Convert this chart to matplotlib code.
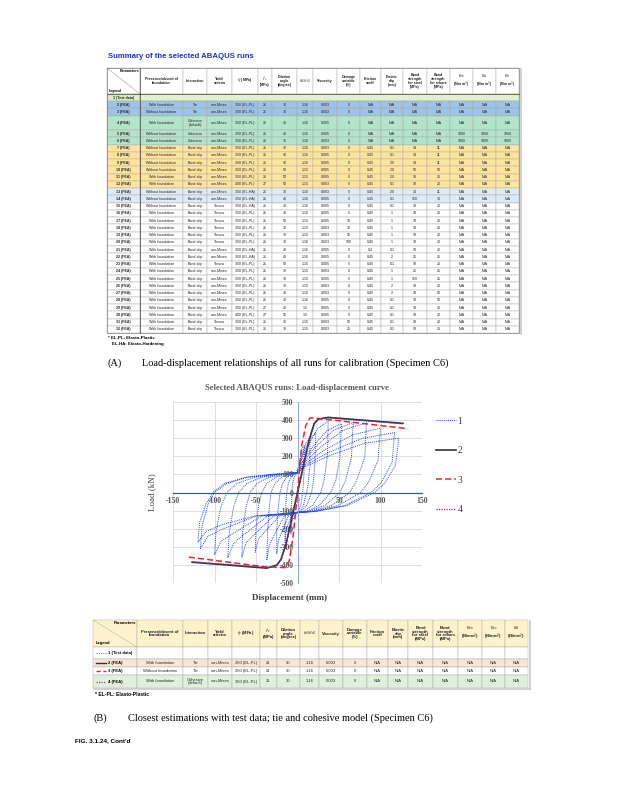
import matplotlib
matplotlib.use('Agg')
import matplotlib.pyplot as plt
from matplotlib.patches import Rectangle

plt.rcParams['axes.unicode_minus'] = False
SERIF = ['Liberation Serif', 'DejaVu Serif']
SANS = ['Liberation Sans', 'DejaVu Sans']

# ---------------- chart data ----------------
# test data, one hysteresis cycle per line
test_disp = [
    0, 1, 3, 5, 8, 8, 7, 6, 4, 1, 0, -3, -6, -7, -8, -8, -7, -7, -6, -4, -2,
    0, 1, 5, 10, 15, 15, 13, 11, 7, 3, 0, -7, -12, -14, -15, -15, -14, -13, -11, -8, -4,
    0, 2, 7, 15, 22, 21, 19, 17, 11, 4, 0, -11, -19, -23, -25, -25, -23, -21, -18, -13, -7,
    0, 3, 12, 24, 37, 36, 32, 28, 18, 7, 0, -16, -29, -34, -37, -36, -34, -32, -27, -19, -10,
    0, 4, 17, 35, 53, 51, 46, 40, 26, 10, 0, -22, -39, -47, -51, -50, -47, -43, -37, -26, -13,
    0, 5, 21, 44, 67, 65, 58, 51, 33, 12, 0, -29, -52, -62, -67, -66, -62, -57, -49, -34, -17,
    0, 7, 27, 55, 83, 81, 71, 63, 41, 15, 0, -36, -65, -77, -84, -82, -77, -71, -61, -43, -22,
    0, 8, 32, 66, 100, 97, 86, 76, 49, 18, 0, -43, -77, -92, -100, -98, -92, -85, -73, -51, -26,
    0, 9, 37, 77, 117, 114, 101, 89, 57, 21, 0, -50, -90, -108, -117, -115, -108, -100, -85, -60, -30,
    0, 10, 39, 81, 122, 118, 105, 93, 60, 22, 0, -52, -92, -110, -120, -118, -110, -102, -88, -61, -31, 0,
]
test_load = [
    110, 137, 185, 238, 260, 130, 44, 0, -72, -105, -110, -130, -150, -179, -230, -138, -51, 0, 50, 85, 100,
    110, 144, 205, 272, 300, 150, 51, 0, -72, -105, -110, -130, -182, -218, -280, -168, -62, 0, 50, 85, 100,
    110, 150, 220, 297, 330, 165, 56, 0, -72, -105, -110, -130, -221, -265, -340, -204, -75, 0, 50, 85, 100,
    110, 161, 252, 352, 395, 198, 67, 0, -72, -105, -110, -130, -244, -293, -375, -225, -83, 0, 50, 85, 100,
    110, 159, 245, 340, 380, 190, 65, 0, -72, -105, -110, -130, -215, -257, -330, -198, -73, 0, 50, 85, 100,
    110, 160, 249, 345, 387, 194, 66, 0, -72, -105, -110, -130, -232, -278, -357, -214, -79, 0, 50, 85, 100,
    110, 160, 248, 344, 385, 193, 65, 0, -72, -105, -110, -130, -234, -281, -360, -216, -79, 0, 50, 85, 100,
    110, 154, 233, 318, 355, 178, 60, 0, -72, -105, -110, -130, -224, -269, -345, -207, -76, 0, 50, 85, 100,
    110, 150, 220, 298, 331, 166, 56, 0, -72, -105, -110, -130, -202, -242, -310, -186, -68, 0, 50, 85, 100,
    110, 144, 205, 272, 300, 150, 51, 0, -72, -105, -110, -130, -179, -215, -275, -165, -61, 0, 50, 85, 100, 110,
]
fea2_disp = [-127, -37, -25, -20, -14, 0, 14, 20, 25, 37, 127]
fea2_load = [-385, -418, -402, -370, -290, 0, 290, 380, 405, 415, 382]
fea3_disp = [-131, -40, -15, -10, -5, 0, 5, 10, 15, 20, 131]
fea3_load = [-357, -410, -415, -380, -230, 0, 260, 370, 412, 412, 354]
fea4_disp = [-126, -36, -24, -19, -14, 0, 15, 21, 26, 36, 126]
fea4_load = [-383, -414, -398, -365, -290, 0, 300, 385, 407, 412, 380]
series_names = ['1', '2', '3', '4']
x_ticks = [-150, -100, -50, 0, 50, 100, 150]
y_ticks = [-500, -400, -300, -200, -100, 0, 100, 200, 300, 400, 500]

# ---------------- top table data ----------------
W = 'With foundation'
WO = 'Without foundation'
NA = 'N/A'
PL = '350 (EL-PL)'
HA = '350 (EL-HA)'
top_head = ['Presence/absent of\nfoundation', 'Interaction', 'Yield\ncriteria', '$f_y$ (MPa)',
            "$f'_c$\n(MPa)", 'Dilation\nangle\n(degree)', '$f_{b0}/f_{c0}$', 'Viscosity',
            'Damage\nvariable\n(%)', 'Friction\ncoeff', 'Elastic\nslip\n(mm)',
            'Bond\nstrength\nfor steel\n(MPa)', 'Bond\nstrength\nfor rebars\n(MPa)',
            '$K_{nn}$\n(N/mm$^3$)', '$K_{ss}$\n(N/mm$^3$)', '$K_{tt}$\n(N/mm$^3$)']
top_runs = [str(i) + ' (FEA)' for i in range(2, 33)]
top_found = [W, WO, W, WO, WO, WO, WO, WO, WO, W, W, WO, WO, WO,
             W, W, W, W, W, W, W, W, W, W, W, W, W, W, W, W, W]
top_inter = ['Tie', 'Tie', 'Cohesive\n(default)', 'Cohesive', 'Cohesive'] + ['Bond-slip'] * 26
top_yield = (['von-Mises'] * 13 + ['Tresca'] * 6 + ['von-Mises'] * 2 + ['Tresca']
             + ['von-Mises'] * 7 + ['Tresca'] * 2)
top_fy = ([PL] * 10 + ['400 (EL-PL)', HA, HA, HA] + [PL] * 5 + [HA, HA]
          + [PL] * 7 + ['400 (EL-PL)', PL, PL])
top_fc = ['21'] * 10 + ['27'] + ['21'] * 16 + ['27', '27', '21', '21']
top_dil = ['30', '30', '40', '40', '30', '30', '40', '40', '50', '50', '50', '30', '40', '40',
           '40', '50', '30', '30', '30', '40', '40', '50', '30', '30', '30', '40', '40', '40',
           '50', '30', '30']
top_fb = ['1.16'] * 8 + ['1.15', '1.15', '1.15', '1.16', '1.16', '1.16', '1.16', '1.15', '1.15',
          '1.15', '1.16', '1.16', '1.16', '1.15', '1.15', '1.15', '1.15', '1.16', '1.16',
          '1.5', '1.5', '1.15', '1.15']
top_visc = ['0.003', '0.003', '0.005', '0.005', '0.003', '0.003', '0.005', '0.005', '0.005',
            '0.005', '0.003', '0.003', '0.005', '0.005', '0.005', '0.005', '0.003', '0.003',
            '0.003', '0.005', '0.005', '0.005', '0.003', '0.005', '0.003', '0.003', '0.005',
            '0.005', '0.005', '0.003', '0.003']
top_dmg = ['0'] * 14 + ['5', '10', '30', '50', '100', '0', '0', '5', '0', '0', '0', '0', '0',
                        '0', '0', '50', '25']
top_fric = [NA] * 5 + ['0.45'] * 14 + ['0.4'] + ['0.45'] * 11
top_slip = [NA] * 5 + ['0.1', '0.1', '2.0', '2.0', '2.0', '0.1', '2.0', '0.1', '0.1', '1', '1',
                       '1', '1', '1', '0.1', '2', '0.1', '1', '1', '2', '2', '0.1', '0.1',
                       '0.1', '0.1', '0.1']
top_bsteel = [NA] * 5 + ['14', '14', '14', '50', '18', '18', '14', '150', '18', '18', '18',
                         '18', '18', '18', '18', '25', '18', '25', '150', '18', '18', '18',
                         '18', '18', '18', '18']
top_brebar = [NA] * 5 + ['11', '11', '11', '50', '20', '20', '11', '30', '20', '20', '20',
                         '20', '20', '20', '20', '25', '20', '25', '25', '20', '50', '50',
                         '20', '20', '20', '20']
top_knn = [NA] * 3 + ['1000', '1000'] + [NA] * 26
top_kss = [NA] * 3 + ['1000', '1000'] + [NA] * 26
top_ktt = [NA] * 3 + ['1000', '1000'] + [NA] * 26
top_fill = (['#9dc3e6'] * 2 + ['#b3e3c8'] * 3 + ['#ffe49e'] * 6 + ['#deebf7'] * 2
            + ['white'] * 18)

# ---------------- bottom table data ----------------
bot_runs = ['1 (Test data)', '2 (FEA)', '3 (FEA)', '4 (FEA)']
bot_found = ['', W, WO, W]
bot_inter = ['', 'Tie', 'Tie', 'Cohesive\n(default)']
bot_yield = ['', 'von-Mises', 'von-Mises', 'von-Mises']
bot_fy = ['', PL, PL, PL]
bot_fc = ['', '21', '21', '21']
bot_dil = ['', '30', '30', '30']
bot_fb = ['', '1.16', '1.16', '1.16']
bot_visc = ['', '0.003', '0.003', '0.003']
bot_dmg = ['', '0', '0', '0']
bot_rest = ['', NA, NA, NA]
bot_fill = ['white', '#fce4d6', 'white', '#e2efda']

# ---------------- page ----------------
fig = plt.figure(figsize=(6.25, 8), dpi=100)
page = fig.add_axes([0, 0, 1, 1])
page.set_xlim(0, 625)
page.set_ylim(800, 0)
page.axis('off')


def cell(x0, x1, y0, y1, txt, fc='white', fs=2.6, bold=False, ec='#a6a6a6'):
    page.add_patch(Rectangle((x0, y0), x1 - x0, y1 - y0, facecolor=fc, edgecolor=ec, lw=0.3))
    if txt:
        page.text((x0 + x1) / 2, (y0 + y1) / 2, txt, ha='center', va='center', fontsize=fs,
                  fontweight='bold' if bold else 'normal', family=SANS, linespacing=0.95,
                  color='#222222')


page.text(108, 57, 'Summary of the selected ABAQUS runs', fontsize=5.6, fontweight='bold',
          color='#1a35c9', family=SANS, va='center')

top_cols = [107, 140, 183, 207, 232, 258, 272, 297, 313, 337, 360, 381, 403, 427, 450, 473, 496, 519]
cell(top_cols[0], top_cols[1], 68, 94, '')
page.plot([107, 140], [68, 94], color='#808080', lw=0.3)
page.text(139, 71, 'Parameters', fontsize=2.6, fontweight='bold', ha='right', va='center', family=SANS)
page.text(109, 91, 'Legend', fontsize=2.6, fontweight='bold', ha='left', va='center', family=SANS)
for j, h in enumerate(top_head):
    cell(top_cols[j + 1], top_cols[j + 2], 68, 94, h, bold=True)
cell(top_cols[0], top_cols[1], 94, 101, '1 (Test data)', fc='#d8ecc0', bold=True)
cell(top_cols[1], top_cols[-1], 94, 101, '', fc='#e2f0d0')
cols_top = [top_found, top_inter, top_yield, top_fy, top_fc, top_dil, top_fb, top_visc, top_dmg,
            top_fric, top_slip, top_bsteel, top_brebar, top_knn, top_kss, top_ktt]
y = 101.0
for i, run in enumerate(top_runs):
    h = 7.25 * (2 if i == 2 else 1)
    cell(top_cols[0], top_cols[1], y, y + h, run, fc=top_fill[i], bold=True)
    for j, col in enumerate(cols_top):
        cell(top_cols[j + 1], top_cols[j + 2], y, y + h, col[i], fc=top_fill[i])
    y += h
page.plot([140, 140], [68, y], color='#404040', lw=0.5)
page.plot([107, 519], [94, 94], color='#404040', lw=0.5)
page.add_patch(Rectangle((107, 68), 412, y - 68, fill=False, edgecolor='#7f7f7f', lw=0.5))
page.plot([520.5, 520.5], [69, y + 1], color='#c8c8c8', lw=1.2)
page.text(108, y + 5, '* EL-PL: Elasto-Plastic', fontsize=3.2, fontweight='bold', family=SANS, va='center')
page.text(112, y + 11, 'EL-HA: Elasto-Hardening', fontsize=3.2, fontweight='bold', family=SANS, va='center')

page.text(107, 363, '(A)', fontsize=7.5, family=SERIF, va='center')
page.text(142, 363, 'Load-displacement relationships of all runs for calibration (Specimen C6)',
          fontsize=7.5, family=SERIF, va='center')

# ---------------- chart ----------------
ax = fig.add_axes([173 / 625, 1 - 583 / 800, 249 / 625, 181 / 800])
ax.plot(test_disp, test_load, color='#2f4fe0', lw=0.7, ls=(0, (1, 1)), label=series_names[0], zorder=2)
ax.plot(fea2_disp, fea2_load, color='#333333', lw=1.2, label=series_names[1], zorder=3)
ax.plot(fea3_disp, fea3_load, color='#e8262b', lw=1.1, ls=(0, (4, 2)), label=series_names[2], zorder=3)
ax.plot(fea4_disp, fea4_load, color='#7030a0', lw=0.9, ls=(0, (1, 1)), label=series_names[3], zorder=4)
ax.set_xlim(-150, 150)
ax.set_ylim(-500, 500)
ax.set_xticks(x_ticks)
ax.set_yticks(y_ticks)
ax.grid(color='#d9d9d9', lw=0.6)
ax.set_axisbelow(True)
for s in ['top', 'right']:
    ax.spines[s].set_visible(False)
ax.spines['left'].set_position(('data', 0))
ax.spines['bottom'].set_position(('data', 0))
ax.spines['left'].set_color('#8fa6e8')
ax.spines['bottom'].set_color('#3050d8')
ax.spines['left'].set_linewidth(0.7)
ax.spines['bottom'].set_linewidth(0.9)
ax.tick_params(length=0, labelsize=5.6, labelcolor='#555555', pad=3)
for lab in ax.get_xticklabels() + ax.get_yticklabels():
    lab.set_family(SERIF)
    lab.set_fontweight('bold')
ax.legend(loc='upper left', bbox_to_anchor=(0.69, 1 - 412 / 800), bbox_transform=fig.transFigure,
          frameon=False, prop={'family': SERIF, 'size': 7}, handlelength=2.0,
          handletextpad=0.2, labelspacing=2.1, borderpad=0, labelcolor='#404040')

fig.text(297 / 625, 1 - 388 / 800, 'Selected ABAQUS runs: Load-displacement curve', ha='center',
         va='center', fontsize=6.2, fontweight='bold', color='#595959', family=SERIF)
fig.text(152 / 625, 1 - 492 / 800, 'Load (kN)', rotation=90, ha='center', va='center',
         fontsize=6.5, color='#404040', family=SERIF)
fig.text(290 / 625, 1 - 598 / 800, 'Displacement (mm)', ha='center', va='center',
         fontsize=6.5, color='#404040', family=SERIF, fontweight='bold')

# ---------------- bottom table ----------------
bot_cols = [93, 137, 183, 208, 232, 260, 277, 300, 319, 343, 367, 388, 408, 433, 458, 482, 505, 528]
cell(bot_cols[0], bot_cols[1], 620, 647, '', fc='#fff2cc')
page.plot([93, 137], [620, 647], color='#a0a0a0', lw=0.3)
page.text(136, 623, 'Parameters', fontsize=3, fontweight='bold', ha='right', va='center', family=SANS)
page.text(96, 643, 'Legend', fontsize=3, fontweight='bold', ha='left', va='center', family=SANS)
for j, h in enumerate(top_head):
    cell(bot_cols[j + 1], bot_cols[j + 2], 620, 647, h, fc='#fff2cc', fs=3, bold=True)
cols_bot = [bot_found, bot_inter, bot_yield, bot_fy, bot_fc, bot_dil, bot_fb, bot_visc, bot_dmg] \
    + [bot_rest] * 7
bot_rows = [(647, 659), (659, 667), (667, 675), (675, 688)]
samples = [dict(color='#6a7fe8', ls=(0, (1, 1)), lw=0.8), dict(color='#333333', ls='-', lw=1.0),
           dict(color='#e8262b', ls=(0, (3, 2)), lw=1.0), dict(color='#8050c0', ls=(0, (1, 1)), lw=0.9)]
for i, run in enumerate(bot_runs):
    y0, y1 = bot_rows[i]
    cell(bot_cols[0], bot_cols[1], y0, y1, '', fc=bot_fill[i])
    page.plot([96, 106], [(y0 + y1) / 2] * 2, **samples[i])
    page.text(108, (y0 + y1) / 2, run, fontsize=3, fontweight='bold', va='center', family=SANS)
    for j, col in enumerate(cols_bot):
        cell(bot_cols[j + 1], bot_cols[j + 2], y0, y1, col[i], fc=bot_fill[i], fs=3)
page.plot([529.5, 529.5], [621, 689], color='#c8c8c8', lw=1.2)
page.plot([94, 529.5], [689, 689], color='#c8c8c8', lw=1.2)
page.text(95, 694, '* EL-PL: Elasto-Plastic', fontsize=3.6, fontweight='bold', family=SANS, va='center')

page.text(94, 718, '(B)', fontsize=7.5, family=SERIF, va='center')
page.text(128, 718, 'Closest estimations with test data; tie and cohesive model (Specimen C6)',
          fontsize=7.5, family=SERIF, va='center')
page.text(75, 741, "FIG. 3.1.24, Cont'd", fontsize=4.6, fontweight='bold', family=SANS, va='center')

fig.savefig('out.png', dpi=100)
